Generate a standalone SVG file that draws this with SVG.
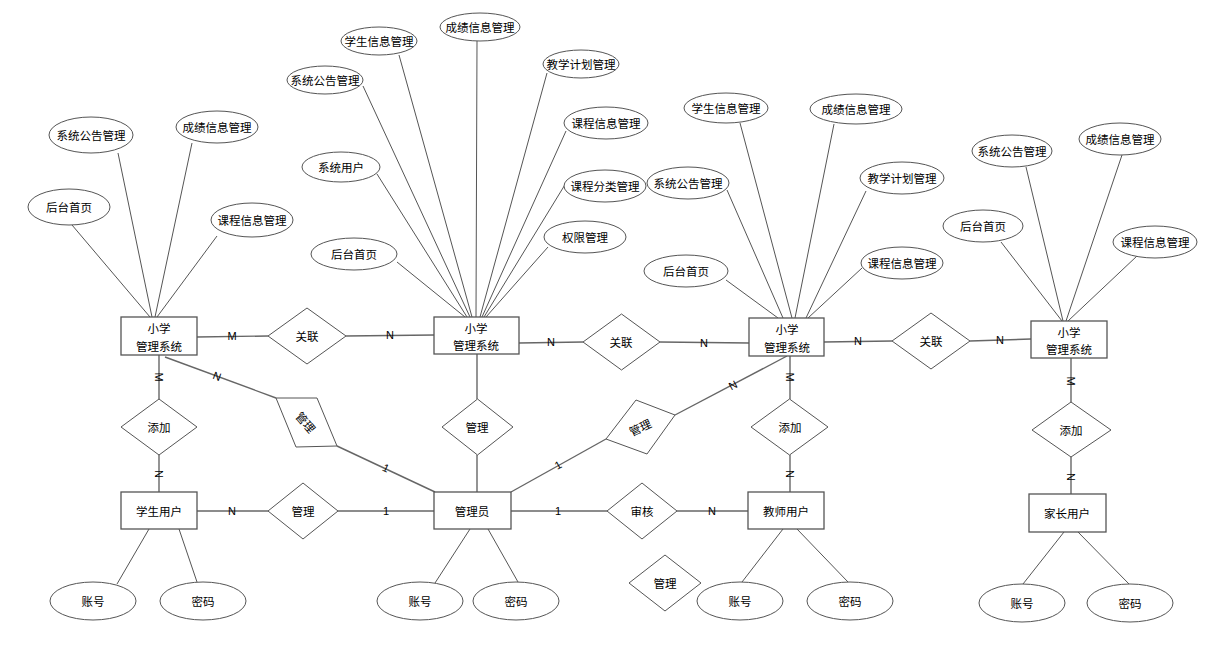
<svg xmlns="http://www.w3.org/2000/svg" width="1206" height="653" viewBox="0 0 1206 653">
<style>
text{font-family:"Noto Sans CJK SC","Liberation Sans",sans-serif;font-size:11.5px;fill:#000;text-anchor:middle;dominant-baseline:central}
.e{fill:#fff;stroke:#555;stroke-width:1}
.b{fill:#fff;stroke:#555;stroke-width:1.3}
.d{fill:#fff;stroke:#555;stroke-width:1}
.l line{stroke:#555;stroke-width:1}
.r line{stroke:#666;stroke-width:1.4}
.c{font-family:"Liberation Sans Narrow","Liberation Sans",sans-serif;font-size:11px}
</style>
<rect width="1206" height="653" fill="#fff"/>
<g id="connectors">
<g class="l">
<line x1="118" y1="153" x2="152" y2="317"/>
<line x1="192" y1="143" x2="155" y2="317"/>
<line x1="72" y1="225" x2="150" y2="317"/>
<line x1="217" y1="236" x2="157" y2="317"/>
<line x1="477" y1="41" x2="476" y2="317"/>
<line x1="399" y1="55" x2="472" y2="317"/>
<line x1="363" y1="86" x2="470" y2="317"/>
<line x1="547" y1="73" x2="480" y2="317"/>
<line x1="566" y1="131" x2="482" y2="317"/>
<line x1="377" y1="174" x2="467" y2="317"/>
<line x1="566" y1="183" x2="484" y2="317"/>
<line x1="548" y1="247" x2="486" y2="317"/>
<line x1="397" y1="262" x2="465" y2="317"/>
<line x1="740" y1="123" x2="792" y2="318"/>
<line x1="834" y1="124" x2="795" y2="318"/>
<line x1="727" y1="190" x2="783" y2="318"/>
<line x1="866" y1="191" x2="806" y2="318"/>
<line x1="726" y1="280" x2="778" y2="318"/>
<line x1="862" y1="268" x2="808" y2="318"/>
<line x1="1026" y1="167" x2="1063" y2="321"/>
<line x1="1122" y1="155" x2="1066" y2="321"/>
<line x1="1001" y1="242" x2="1062" y2="321"/>
<line x1="1137" y1="256" x2="1068" y2="321"/>
<line x1="149" y1="529" x2="117" y2="584"/>
<line x1="179" y1="529" x2="197" y2="582"/>
<line x1="470" y1="529" x2="435" y2="583"/>
<line x1="488" y1="529" x2="518" y2="582"/>
<line x1="783" y1="529" x2="742" y2="582"/>
<line x1="797" y1="529" x2="848" y2="582"/>
<line x1="1064" y1="532" x2="1023" y2="584"/>
<line x1="1078" y1="532" x2="1129" y2="584"/>
</g>
<g class="r">
<line x1="197" y1="337" x2="268" y2="336"/>
<line x1="346" y1="336" x2="434" y2="335"/>
<line x1="519" y1="343" x2="583" y2="342"/>
<line x1="660" y1="342" x2="749" y2="343"/>
<line x1="824" y1="342" x2="892" y2="341"/>
<line x1="970" y1="341" x2="1031" y2="339"/>
<line x1="159" y1="355" x2="159" y2="399"/>
<line x1="159" y1="455" x2="159" y2="492"/>
<line x1="165" y1="357" x2="276" y2="398"/>
<line x1="337" y1="446" x2="435" y2="492"/>
<line x1="197" y1="511" x2="268" y2="511"/>
<line x1="338" y1="511" x2="434" y2="511"/>
<line x1="477" y1="354" x2="477" y2="399"/>
<line x1="477" y1="455" x2="477" y2="492"/>
<line x1="511" y1="492" x2="606" y2="439"/>
<line x1="675" y1="415" x2="787" y2="356"/>
<line x1="511" y1="511" x2="607" y2="511"/>
<line x1="677" y1="511" x2="748" y2="511"/>
<line x1="790" y1="356" x2="790" y2="399"/>
<line x1="790" y1="455" x2="790" y2="492"/>
<line x1="1071" y1="358" x2="1071" y2="402"/>
<line x1="1071" y1="457" x2="1071" y2="494"/>
</g>
<g id="cardinality">
<text class="c" x="232" y="336">M</text>
<text class="c" x="390" y="335">N</text>
<text class="c" x="551" y="342">N</text>
<text class="c" x="704" y="343">N</text>
<text class="c" x="858" y="341">N</text>
<text class="c" x="1000" y="340">N</text>
<text class="c" transform="translate(159,377) rotate(90)">M</text>
<text class="c" transform="translate(159,474) rotate(90)">N</text>
<text class="c" transform="translate(217,376) rotate(20)">N</text>
<text class="c" transform="translate(386,468) rotate(25)">1</text>
<text class="c" x="232" y="511">N</text>
<text class="c" x="386" y="511">1</text>
<text class="c" transform="translate(558,465) rotate(-29)">1</text>
<text class="c" transform="translate(733,385) rotate(-28)">N</text>
<text class="c" x="558" y="511">1</text>
<text class="c" x="712" y="511">N</text>
<text class="c" transform="translate(790,377) rotate(90)">M</text>
<text class="c" transform="translate(790,474) rotate(90)">N</text>
<text class="c" transform="translate(1071,381) rotate(90)">M</text>
<text class="c" transform="translate(1071,477) rotate(90)">N</text>
</g>
</g>
<g id="attr-left">
<ellipse class="e" cx="91" cy="135" rx="42" ry="18"/><text x="91" y="135">系统公告管理</text>
<ellipse class="e" cx="217" cy="127" rx="41" ry="16"/><text x="217" y="127">成绩信息管理</text>
<ellipse class="e" cx="69" cy="207" rx="41" ry="18"/><text x="69" y="207">后台首页</text>
<ellipse class="e" cx="252" cy="220" rx="41" ry="17"/><text x="252" y="220">课程信息管理</text>
</g>
<g id="attr-center">
<ellipse class="e" cx="480" cy="27" rx="40" ry="14"/><text x="480" y="27">成绩信息管理</text>
<ellipse class="e" cx="379" cy="41" rx="38" ry="14"/><text x="379" y="41">学生信息管理</text>
<ellipse class="e" cx="325" cy="80" rx="38" ry="14"/><text x="325" y="80">系统公告管理</text>
<ellipse class="e" cx="581" cy="64" rx="38" ry="14"/><text x="581" y="64">教学计划管理</text>
<ellipse class="e" cx="606" cy="123" rx="42" ry="16"/><text x="606" y="123">课程信息管理</text>
<ellipse class="e" cx="341" cy="167" rx="39" ry="15"/><text x="341" y="167">系统用户</text>
<ellipse class="e" cx="605" cy="186" rx="41" ry="16"/><text x="605" y="186">课程分类管理</text>
<ellipse class="e" cx="585" cy="237" rx="41" ry="16"/><text x="585" y="237">权限管理</text>
<ellipse class="e" cx="354" cy="254" rx="43" ry="16"/><text x="354" y="254">后台首页</text>
</g>
<g id="attr-midright">
<ellipse class="e" cx="726" cy="108" rx="42" ry="15"/><text x="726" y="108">学生信息管理</text>
<ellipse class="e" cx="856" cy="109" rx="46" ry="15"/><text x="856" y="109">成绩信息管理</text>
<ellipse class="e" cx="688" cy="183" rx="41" ry="16"/><text x="688" y="183">系统公告管理</text>
<ellipse class="e" cx="902" cy="178" rx="42" ry="16"/><text x="902" y="178">教学计划管理</text>
<ellipse class="e" cx="686" cy="271" rx="42" ry="16"/><text x="686" y="271">后台首页</text>
<ellipse class="e" cx="902" cy="263" rx="41" ry="16"/><text x="902" y="263">课程信息管理</text>
</g>
<g id="attr-right">
<ellipse class="e" cx="1012" cy="151" rx="40" ry="16"/><text x="1012" y="151">系统公告管理</text>
<ellipse class="e" cx="1120" cy="139" rx="41" ry="16"/><text x="1120" y="139">成绩信息管理</text>
<ellipse class="e" cx="983" cy="226" rx="40" ry="16"/><text x="983" y="226">后台首页</text>
<ellipse class="e" cx="1155" cy="242" rx="42" ry="16"/><text x="1155" y="242">课程信息管理</text>
</g>
<g id="sys-left"><rect class="b" x="121" y="317" width="76" height="38"/><text x="159" y="328">小学</text><text x="159" y="346">管理系统</text></g>
<g id="sys-center"><rect class="b" x="434" y="317" width="85" height="37"/><text x="476" y="328">小学</text><text x="476" y="345">管理系统</text></g>
<g id="sys-midright"><rect class="b" x="749" y="318" width="75" height="38"/><text x="787" y="329">小学</text><text x="787" y="347">管理系统</text></g>
<g id="sys-right"><rect class="b" x="1031" y="321" width="76" height="37"/><text x="1069" y="332">小学</text><text x="1069" y="349">管理系统</text></g>
<g id="rel-left"><polygon class="d" points="268,336 307,308 346,336 307,364"/><text x="307" y="336">关联</text></g>
<g id="rel-mid"><polygon class="d" points="583,342 621.5,314 660,342 621.5,370"/><text x="621" y="342">关联</text></g>
<g id="rel-right"><polygon class="d" points="892,341 931,313 970,341 931,369"/><text x="931" y="341">关联</text></g>
<g id="add-student"><polygon class="d" points="121,427 159,399 197,427 159,455"/><text x="159" y="427">添加</text></g>
<g id="manage-tilt-left"><polygon class="d" points="276,398 317,398 337,446 296,447"/><text transform="translate(306,422) rotate(50)">管理</text></g>
<g id="manage-center"><polygon class="d" points="442,427 477.5,399 513,427 477.5,455"/><text x="477" y="427">管理</text></g>
<g id="manage-tilt-right"><polygon class="d" points="636,400 675,415 647,454 606,439"/><text transform="translate(640,427) rotate(-25)">管理</text></g>
<g id="add-teacher"><polygon class="d" points="751,427 789.5,399 828,427 789.5,455"/><text x="790" y="427">添加</text></g>
<g id="add-parent"><polygon class="d" points="1032,430 1071,402 1111,430 1071,457"/><text x="1071" y="430">添加</text></g>
<g id="manage-student"><polygon class="d" points="268,511 303,483 338,511 303,539"/><text x="303" y="511">管理</text></g>
<g id="audit"><polygon class="d" points="607,511 642,483 677,511 642,539"/><text x="642" y="511">审核</text></g>
<g id="manage-lone"><polygon class="d" points="629,583 665,555 701,583 665,611"/><text x="665" y="583">管理</text></g>
<g id="student"><rect class="b" x="121" y="492" width="76" height="37"/><text x="159" y="511">学生用户</text></g>
<g id="admin"><rect class="b" x="434" y="492" width="77" height="37"/><text x="472" y="511">管理员</text></g>
<g id="teacher"><rect class="b" x="748" y="492" width="76" height="37"/><text x="786" y="511">教师用户</text></g>
<g id="parent"><rect class="b" x="1029" y="494" width="77" height="38"/><text x="1067" y="513">家长用户</text></g>
<g id="attr-bottom">
<ellipse class="e" cx="93" cy="601" rx="43" ry="19"/><text x="93" y="601">账号</text>
<ellipse class="e" cx="203" cy="601" rx="43" ry="19"/><text x="203" y="601">密码</text>
<ellipse class="e" cx="420" cy="601" rx="43" ry="19"/><text x="420" y="601">账号</text>
<ellipse class="e" cx="516" cy="601" rx="43" ry="19"/><text x="516" y="601">密码</text>
<ellipse class="e" cx="740" cy="601" rx="43" ry="19"/><text x="740" y="601">账号</text>
<ellipse class="e" cx="850" cy="601" rx="43" ry="19"/><text x="850" y="601">密码</text>
<ellipse class="e" cx="1022" cy="603" rx="43" ry="19"/><text x="1022" y="603">账号</text>
<ellipse class="e" cx="1130" cy="603" rx="43" ry="19"/><text x="1130" y="603">密码</text>
</g>
</svg>
